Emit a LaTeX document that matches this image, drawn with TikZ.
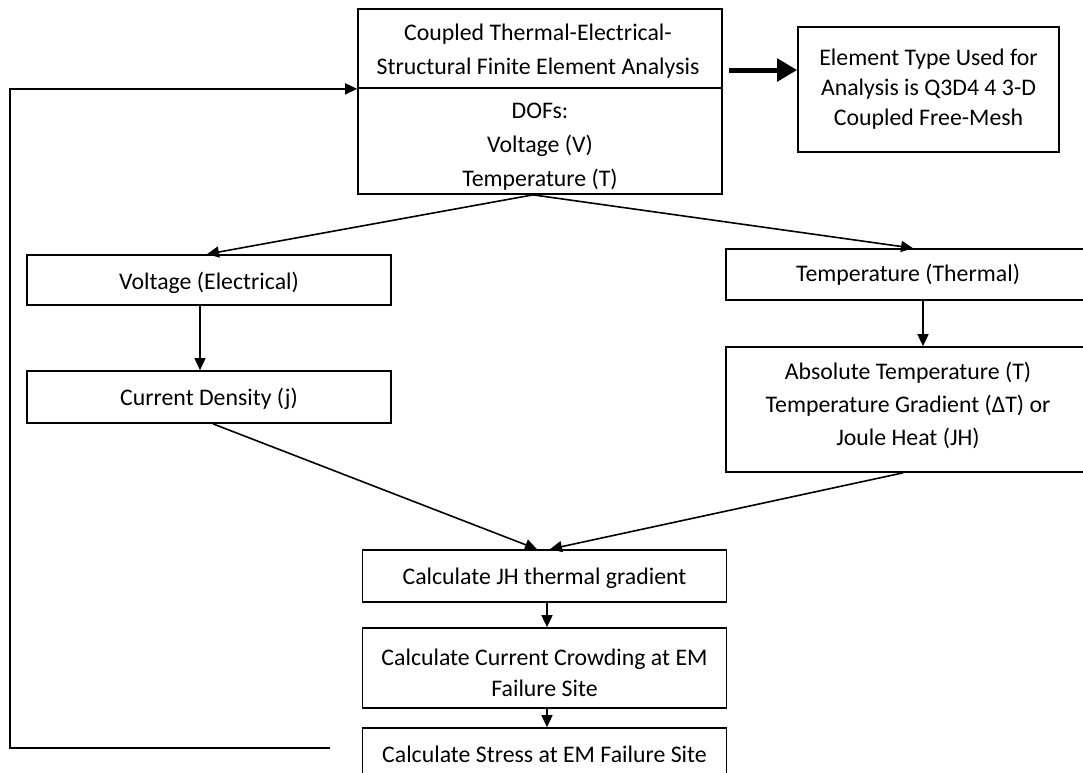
\documentclass[tikz,border=0pt]{standalone}
\usepackage{fontspec}
\setmainfont{Carlito}
\usetikzlibrary{arrows.meta}
\begin{document}
\begin{tikzpicture}[x=1pt,y=-1pt,
  box/.style={draw, line width=1.7pt, minimum width=364pt, inner sep=0pt, align=center, font=\fontsize{23.8}{32}\selectfont},
  txt/.style={inner sep=0pt, align=center, font=\fontsize{23.8}{32}\selectfont},
  arr/.style={line width=1.6pt, -{Triangle[length=12pt,width=11pt]}},
  bigarr/.style={line width=5pt, -{Triangle[length=20pt,width=22pt]}}]
\useasboundingbox (0,0) rectangle (1083,772);
\node[box, minimum height=79pt] (topA) at (540,48.5) {};
\node[txt, font=\fontsize{23.8}{34}\selectfont] (topAt) at (538,51.5) {Coupled Thermal-Electrical-\\Structural Finite Element Analysis};
\node[box, minimum height=106pt] (topB) at (540,141) {};
\node[txt, font=\fontsize{23.8}{34}\selectfont] (topBt) at (540,147) {DOFs:\\Voltage (V)\\Temperature (T)};
\node[box, minimum width=261pt, minimum height=125pt, font=\fontsize{23.8}{30}\selectfont] (elem) at (928.5,89.5) {Element Type Used for\\Analysis is Q3D4 4 3-D\\Coupled Free-Mesh};
\node[box, minimum height=50pt] (volt) at (209,280) {};
\node[txt] (voltt) at (209,283) {Voltage (Electrical)};
\node[box, minimum height=52pt] (cur) at (209,397) {};
\node[txt] (curt) at (209,399) {Current Density (j)};
\node[box, minimum height=51pt] (temp) at (908,274.5) {Temperature (Thermal)};
\node[box, minimum height=125pt] (abs) at (908,409.5) {};
\node[txt, font=\fontsize{23.8}{33}\selectfont] (abst) at (908,405.5) {Absolute Temperature (T)\\Temperature Gradient (ΔT) or\\Joule Heat (JH)};
\node[box, minimum height=52pt] (jh) at (544.5,576) {};
\node[txt] (jht) at (544.5,578) {Calculate JH thermal gradient};
\node[box, minimum height=80pt] (cc) at (544.5,668) {};
\node[txt, font=\fontsize{23.8}{31}\selectfont] (cct) at (544.5,672.5) {Calculate Current Crowding at EM\\Failure Site};
\node[box, minimum height=50pt] (st) at (544.5,753) {};
\node[txt] (stt) at (544.5,754) {Calculate Stress at EM Failure Site};

\draw[bigarr] ([xshift=6pt,yshift=-21.5pt]topA.east) -- ([yshift=-21.5pt]topA.east -| elem.west);
\draw[arr] ([xshift=-7pt]topB.south) -- ([xshift=-2pt]volt.north);
\draw[arr] ([xshift=-7pt]topB.south) -- ([xshift=5pt]temp.north);
\draw[arr] ([xshift=-9pt]volt.south) -- ([xshift=-9pt]cur.north);
\draw[arr] ([xshift=15pt]temp.south) -- ([xshift=15pt]abs.north);
\draw[arr] ([xshift=4pt]cur.south) -- ([xshift=-7.5pt]jh.north);
\draw[arr] ([xshift=-5pt]abs.south) -- ([xshift=5.5pt]jh.north);
\draw[arr] ([xshift=2.5pt]jh.south) -- ([xshift=2.5pt]cc.north);
\draw[arr] ([xshift=2.5pt]cc.south) -- ([xshift=2.5pt]st.north);
\coordinate (fb) at (330,748);
\coordinate (lx) at (10,748);
\draw[arr] (fb) -- (lx) |- (topA.south west);
\end{tikzpicture}
\end{document}
